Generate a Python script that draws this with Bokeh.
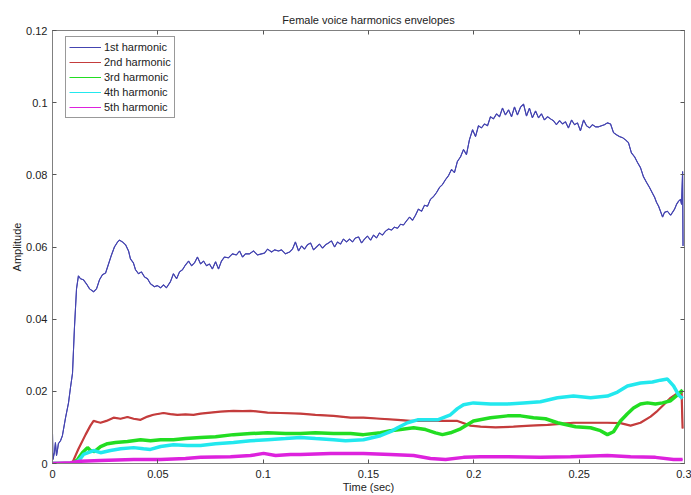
from bokeh.plotting import figure
from bokeh.models import Range1d, LinearAxis, FixedTicker, Legend, LegendItem
from bokeh.embed import file_html
from bokeh.resources import INLINE

FONT = "Liberation Sans"

# Axis ticks and their labels
x_ticks = [0.0, 0.05, 0.1, 0.15, 0.2, 0.25, 0.3]
x_tick_labels = ["0", "0.05", "0.1", "0.15", "0.2", "0.25", "0.3"]
y_ticks = [0.0, 0.02, 0.04, 0.06, 0.08, 0.1, 0.12]
y_tick_labels = ["0", "0.02", "0.04", "0.06", "0.08", "0.1", "0.12"]

series_names = ["1st harmonic", "2nd harmonic", "3rd harmonic", "4th harmonic", "5th harmonic"]

# 1st harmonic envelope (time in s, amplitude)
t_h1 = [
    0.0000, 0.0002, 0.0009, 0.0014, 0.0019, 0.0024, 0.0028, 0.0038, 0.0047, 0.0062,
    0.0076, 0.0085, 0.0095, 0.0104, 0.0114, 0.0123, 0.0133, 0.0147, 0.0161, 0.0176,
    0.0195, 0.0209, 0.0223, 0.0237, 0.0252, 0.0266, 0.0280, 0.0294, 0.0309, 0.0318,
    0.0332, 0.0347, 0.0361, 0.0370, 0.0384, 0.0394, 0.0408, 0.0422, 0.0437, 0.0451,
    0.0465, 0.0484, 0.0498, 0.0513, 0.0527, 0.0541, 0.0560, 0.0574, 0.0589, 0.0603,
    0.0617, 0.0631, 0.0646, 0.0660, 0.0674, 0.0688, 0.0703, 0.0717, 0.0731, 0.0745,
    0.0759, 0.0774, 0.0788, 0.0802, 0.0816, 0.0835, 0.0854, 0.0873, 0.0888, 0.0902,
    0.0916, 0.0935, 0.0954, 0.0973, 0.0992, 0.1006, 0.1021, 0.1040, 0.1054, 0.1073,
    0.1087, 0.1106, 0.1125, 0.1139, 0.1153, 0.1168, 0.1182, 0.1196, 0.1210, 0.1225,
    0.1239, 0.1253, 0.1267, 0.1282, 0.1296, 0.1310, 0.1324, 0.1339, 0.1353, 0.1367,
    0.1381, 0.1396, 0.1410, 0.1424, 0.1438, 0.1453, 0.1467, 0.1481, 0.1495, 0.1510,
    0.1524, 0.1538, 0.1552, 0.1566, 0.1581, 0.1595, 0.1609, 0.1623, 0.1638, 0.1652,
    0.1666, 0.1680, 0.1695, 0.1709, 0.1723, 0.1737, 0.1752, 0.1766, 0.1780, 0.1794,
    0.1809, 0.1823, 0.1837, 0.1851, 0.1866, 0.1880, 0.1894, 0.1908, 0.1922, 0.1937,
    0.1951, 0.1965, 0.1979, 0.1994, 0.2008, 0.2022, 0.2036, 0.2051, 0.2065, 0.2079,
    0.2093, 0.2108, 0.2122, 0.2136, 0.2150, 0.2165, 0.2179, 0.2193, 0.2207, 0.2222,
    0.2236, 0.2250, 0.2264, 0.2278, 0.2293, 0.2307, 0.2321, 0.2335, 0.2350, 0.2364,
    0.2378, 0.2392, 0.2407, 0.2421, 0.2435, 0.2449, 0.2464, 0.2478, 0.2492, 0.2506,
    0.2521, 0.2535, 0.2549, 0.2563, 0.2578, 0.2592, 0.2606, 0.2620, 0.2634, 0.2649,
    0.2663, 0.2677, 0.2691, 0.2706, 0.2720, 0.2734, 0.2748, 0.2763, 0.2777, 0.2791,
    0.2805, 0.2820, 0.2834, 0.2848, 0.2858, 0.2867, 0.2877, 0.2886, 0.2896, 0.2905,
    0.2919, 0.2934, 0.2943, 0.2953, 0.2962, 0.2972, 0.2981, 0.2986, 0.2991, 0.2993,
]
amp_h1 = [
    0.0083, 0.0011, 0.0030, 0.0058, 0.0022, 0.0039, 0.0055, 0.0063, 0.0077, 0.0127,
    0.0168, 0.0209, 0.0250, 0.0374, 0.0484, 0.0520, 0.0512, 0.0509, 0.0498, 0.0484,
    0.0476, 0.0484, 0.0509, 0.0523, 0.0528, 0.0553, 0.0578, 0.0600, 0.0614, 0.0619,
    0.0614, 0.0606, 0.0589, 0.0567, 0.0556, 0.0537, 0.0526, 0.0531, 0.0517, 0.0512,
    0.0498, 0.0490, 0.0493, 0.0487, 0.0495, 0.0487, 0.0504, 0.0526, 0.0512, 0.0531,
    0.0537, 0.0550, 0.0561, 0.0548, 0.0556, 0.0572, 0.0553, 0.0561, 0.0548, 0.0553,
    0.0539, 0.0559, 0.0539, 0.0561, 0.0572, 0.0570, 0.0581, 0.0578, 0.0589, 0.0572,
    0.0581, 0.0581, 0.0589, 0.0578, 0.0581, 0.0583, 0.0594, 0.0586, 0.0592, 0.0589,
    0.0592, 0.0581, 0.0586, 0.0594, 0.0614, 0.0589, 0.0603, 0.0594, 0.0606, 0.0611,
    0.0592, 0.0600, 0.0608, 0.0597, 0.0606, 0.0611, 0.0617, 0.0600, 0.0614, 0.0608,
    0.0622, 0.0614, 0.0622, 0.0614, 0.0625, 0.0628, 0.0611, 0.0622, 0.0630, 0.0619,
    0.0633, 0.0625, 0.0639, 0.0633, 0.0644, 0.0650, 0.0647, 0.0655, 0.0652, 0.0663,
    0.0661, 0.0672, 0.0683, 0.0674, 0.0688, 0.0705, 0.0699, 0.0716, 0.0713, 0.0732,
    0.0740, 0.0751, 0.0765, 0.0773, 0.0787, 0.0798, 0.0815, 0.0806, 0.0837, 0.0850,
    0.0870, 0.0856, 0.0897, 0.0925, 0.0906, 0.0936, 0.0930, 0.0941, 0.0936, 0.0961,
    0.0955, 0.0969, 0.0961, 0.0985, 0.0966, 0.0980, 0.0961, 0.0988, 0.0966, 0.0988,
    0.0996, 0.0963, 0.0985, 0.0958, 0.0977, 0.0958, 0.0969, 0.0952, 0.0961, 0.0955,
    0.0950, 0.0939, 0.0950, 0.0941, 0.0947, 0.0930, 0.0952, 0.0939, 0.0944, 0.0922,
    0.0952, 0.0936, 0.0930, 0.0939, 0.0933, 0.0933, 0.0936, 0.0939, 0.0944, 0.0941,
    0.0917, 0.0911, 0.0906, 0.0903, 0.0897, 0.0889, 0.0861, 0.0850, 0.0834, 0.0820,
    0.0795, 0.0779, 0.0765, 0.0749, 0.0738, 0.0724, 0.0713, 0.0699, 0.0683, 0.0696,
    0.0699, 0.0688, 0.0696, 0.0705, 0.0718, 0.0727, 0.0732, 0.0718, 0.0809, 0.0603,
]

# 2nd harmonic envelope
t_h2 = [
    0.0000, 0.0085, 0.0095, 0.0123, 0.0157, 0.0180, 0.0195, 0.0214, 0.0228, 0.0256,
    0.0290, 0.0323, 0.0356, 0.0385, 0.0418, 0.0451, 0.0479, 0.0527, 0.0560, 0.0593,
    0.0631, 0.0669, 0.0703, 0.0750, 0.0797, 0.0859, 0.0902, 0.0940, 0.0978, 0.1021,
    0.1082, 0.1177, 0.1248, 0.1334, 0.1415, 0.1476, 0.1557, 0.1638, 0.1699, 0.1794,
    0.1866, 0.1922, 0.1984, 0.2032, 0.2103, 0.2188, 0.2269, 0.2350, 0.2411, 0.2473,
    0.2554, 0.2634, 0.2696, 0.2744, 0.2791, 0.2839, 0.2872, 0.2905, 0.2934, 0.2962,
    0.2986, 0.2991,
]
amp_h2 = [
    0.0000, 0.0000, 0.0003, 0.0040, 0.0080, 0.0105, 0.0118, 0.0115, 0.0113, 0.0118,
    0.0127, 0.0124, 0.0129, 0.0124, 0.0121, 0.0130, 0.0135, 0.0140, 0.0137, 0.0135,
    0.0136, 0.0135, 0.0138, 0.0141, 0.0144, 0.0146, 0.0145, 0.0146, 0.0144, 0.0141,
    0.0140, 0.0138, 0.0135, 0.0132, 0.0127, 0.0127, 0.0124, 0.0121, 0.0118, 0.0118,
    0.0118, 0.0118, 0.0105, 0.0102, 0.0100, 0.0102, 0.0105, 0.0107, 0.0110, 0.0113,
    0.0113, 0.0113, 0.0112, 0.0105, 0.0113, 0.0130, 0.0146, 0.0165, 0.0182, 0.0193,
    0.0200, 0.0097,
]

# 3rd harmonic envelope
t_h3 = [
    0.0000, 0.0095, 0.0119, 0.0142, 0.0166, 0.0180, 0.0199, 0.0228, 0.0261, 0.0299,
    0.0356, 0.0418, 0.0465, 0.0513, 0.0574, 0.0631, 0.0703, 0.0774, 0.0859, 0.0940,
    0.1021, 0.1106, 0.1177, 0.1248, 0.1334, 0.1415, 0.1476, 0.1557, 0.1604, 0.1652,
    0.1714, 0.1771, 0.1818, 0.1851, 0.1889, 0.1937, 0.1998, 0.2079, 0.2160, 0.2222,
    0.2283, 0.2340, 0.2397, 0.2483, 0.2554, 0.2601, 0.2634, 0.2663, 0.2696, 0.2729,
    0.2758, 0.2791, 0.2824, 0.2862, 0.2896, 0.2934, 0.2967, 0.2991,
]
amp_h3 = [
    0.0000, 0.0000, 0.0011, 0.0030, 0.0044, 0.0036, 0.0033, 0.0047, 0.0055, 0.0058,
    0.0061, 0.0066, 0.0063, 0.0066, 0.0066, 0.0069, 0.0072, 0.0074, 0.0080, 0.0083,
    0.0085, 0.0083, 0.0083, 0.0085, 0.0083, 0.0083, 0.0080, 0.0085, 0.0091, 0.0094,
    0.0099, 0.0094, 0.0085, 0.0080, 0.0085, 0.0096, 0.0118, 0.0127, 0.0132, 0.0132,
    0.0127, 0.0124, 0.0113, 0.0102, 0.0099, 0.0091, 0.0080, 0.0088, 0.0118, 0.0138,
    0.0154, 0.0165, 0.0168, 0.0165, 0.0168, 0.0174, 0.0190, 0.0204,
]

# 4th harmonic envelope
t_h4 = [
    0.0000, 0.0109, 0.0133, 0.0147, 0.0195, 0.0228, 0.0275, 0.0323, 0.0385, 0.0432,
    0.0465, 0.0513, 0.0574, 0.0641, 0.0703, 0.0774, 0.0859, 0.0940, 0.1021, 0.1106,
    0.1177, 0.1248, 0.1334, 0.1391, 0.1476, 0.1557, 0.1604, 0.1638, 0.1685, 0.1733,
    0.1780, 0.1828, 0.1889, 0.1922, 0.1951, 0.1998, 0.2079, 0.2160, 0.2236, 0.2316,
    0.2397, 0.2473, 0.2554, 0.2634, 0.2682, 0.2729, 0.2791, 0.2848, 0.2886, 0.2919,
    0.2948, 0.2972, 0.2991,
]
amp_h4 = [
    0.0000, 0.0000, 0.0014, 0.0025, 0.0036, 0.0030, 0.0036, 0.0041, 0.0044, 0.0041,
    0.0039, 0.0047, 0.0052, 0.0050, 0.0050, 0.0055, 0.0058, 0.0063, 0.0066, 0.0069,
    0.0072, 0.0069, 0.0066, 0.0063, 0.0066, 0.0077, 0.0088, 0.0099, 0.0113, 0.0121,
    0.0121, 0.0121, 0.0135, 0.0152, 0.0163, 0.0168, 0.0165, 0.0165, 0.0168, 0.0171,
    0.0182, 0.0187, 0.0182, 0.0187, 0.0198, 0.0215, 0.0223, 0.0226, 0.0231, 0.0234,
    0.0215, 0.0190, 0.0180,
]

# 5th harmonic envelope
t_h5 = [
    0.0000, 0.0085, 0.0133, 0.0228, 0.0385, 0.0513, 0.0631, 0.0703, 0.0845, 0.0940,
    0.1002, 0.1059, 0.1130, 0.1177, 0.1320, 0.1476, 0.1604, 0.1714, 0.1794, 0.1866,
    0.1951, 0.2032, 0.2127, 0.2316, 0.2459, 0.2634, 0.2744, 0.2862, 0.2948, 0.2991,
]
amp_h5 = [
    0.0000, 0.0002, 0.0006, 0.0008, 0.0011, 0.0011, 0.0014, 0.0017, 0.0019, 0.0022,
    0.0028, 0.0022, 0.0025, 0.0025, 0.0028, 0.0028, 0.0025, 0.0022, 0.0014, 0.0011,
    0.0017, 0.0019, 0.0019, 0.0017, 0.0019, 0.0022, 0.0019, 0.0017, 0.0011, 0.0011,
]

colors = ["#4444b0", "#c43c3c", "#22dd22", "#22e8ee", "#dd22dd"]
widths = [1.1, 2.2, 3.5, 3.5, 3.5]

p = figure(
    width=691, height=495,
    x_range=Range1d(0, 0.3), y_range=Range1d(0, 0.12),
    output_backend="svg", toolbar_location=None,
    min_border_left=52, min_border_right=7,
    min_border_top=30, min_border_bottom=29,
    background_fill_color="white", border_fill_color="white",
)
p.xgrid.visible = False
p.ygrid.visible = False
p.outline_line_color = "#808080"

p.title.text = "Female voice harmonics envelopes"
p.title.align = "center"
p.title.text_font = FONT
p.title.text_font_size = "11px"
p.title.text_font_style = "normal"
p.title.text_color = "#222222"

# Axes: ticks inward, box style
def style_axis(ax, ticks, labels=None):
    ax.ticker = FixedTicker(ticks=ticks)
    ax.axis_line_color = "#808080"
    ax.major_tick_line_color = "#555555"
    ax.major_tick_in = 4
    ax.major_tick_out = 0
    ax.minor_tick_in = 0
    ax.minor_tick_out = 0
    if labels is None:
        # box-side axis: ticks only, blank labels
        ax.major_label_overrides = {t: "" for t in ticks}
        ax.major_label_standoff = 0
    else:
        ax.major_label_overrides = {t: s for t, s in zip(ticks, labels)}
        ax.major_label_text_font = FONT
        ax.major_label_text_font_size = "11px"
        ax.major_label_text_color = "#222222"
        ax.axis_label_text_font = FONT
        ax.axis_label_text_font_size = "11px"
        ax.axis_label_text_font_style = "normal"
        ax.axis_label_text_color = "#222222"

xax = p.xaxis[0]
yax = p.yaxis[0]
style_axis(xax, x_ticks, x_tick_labels)
style_axis(yax, y_ticks, y_tick_labels)
xax.axis_label = "Time (sec)"
yax.axis_label = "Amplitude"
xax.major_label_standoff = 6
xax.axis_label_standoff = 0
yax.major_label_standoff = 5
yax.axis_label_standoff = 0

top_ax = LinearAxis()
right_ax = LinearAxis()
style_axis(top_ax, x_ticks)
style_axis(right_ax, y_ticks)
p.add_layout(top_ax, "above")
p.add_layout(right_ax, "right")

times = [t_h1, t_h2, t_h3, t_h4, t_h5]
amps = [amp_h1, amp_h2, amp_h3, amp_h4, amp_h5]

# thin 1px copies of each envelope serve as the legend keys
keys = [p.line(t, a, line_color=c, line_width=1) for t, a, c in zip(times, amps, colors)]
for t, a, c, w in zip(times, amps, colors, widths):
    p.line(t, a, line_color=c, line_width=w)

items = [LegendItem(label=n, renderers=[r]) for n, r in zip(series_names, keys)]
legend = Legend(
    items=items, location=(13, 345),
    border_line_color="#333333", border_line_width=1,
    background_fill_color="white", background_fill_alpha=1,
    label_text_font=FONT, label_text_font_size="11px", label_text_color="#222222",
    glyph_width=32, glyph_height=14, label_height=14,
    spacing=1, padding=3, margin=0, label_standoff=3,
)
p.add_layout(legend)

html = file_html(p, INLINE)
open("out.html", "w").write(html)
